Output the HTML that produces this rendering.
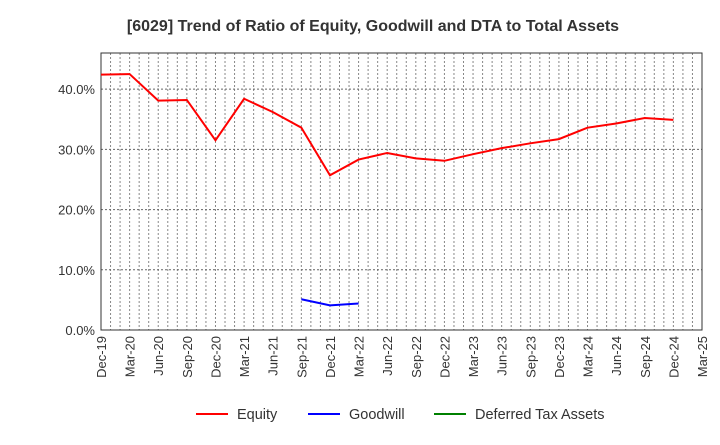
<!DOCTYPE html>
<html><head><meta charset="utf-8"><style>
body{margin:0;background:#fff;font-family:"Liberation Sans",sans-serif}
text{font-family:"Liberation Sans",sans-serif}
</style></head><body>
<svg id="c" width="720" height="440">
<text x="373" y="31" text-anchor="middle" font-size="16" font-weight="bold" fill="#333">[6029]  Trend of Ratio of Equity, Goodwill and DTA to Total Assets</text>
<g id="grid"></g><g id="axes"></g><g id="series"></g>
<g>
<line x1="196" y1="414" x2="228" y2="414" stroke="#f00" stroke-width="2"/>
<text x="237" y="419" font-size="14.5" fill="#333">Equity</text>
<line x1="308" y1="414" x2="340" y2="414" stroke="#00f" stroke-width="2"/>
<text x="349" y="419" font-size="14.5" fill="#333">Goodwill</text>
<line x1="434" y1="414" x2="466" y2="414" stroke="#008000" stroke-width="2"/>
<text x="475" y="419" font-size="14.5" fill="#333">Deferred Tax Assets</text>
</g>
</svg>
<script>
const categories=["Dec-19","Mar-20","Jun-20","Sep-20","Dec-20","Mar-21","Jun-21","Sep-21","Dec-21","Mar-22","Jun-22","Sep-22","Dec-22","Mar-23","Jun-23","Sep-23","Dec-23","Mar-24","Jun-24","Sep-24","Dec-24","Mar-25"];
const equity=[42.4,42.5,38.1,38.2,31.5,38.4,36.2,33.6,25.7,28.3,29.4,28.5,28.1,29.2,30.2,31.0,31.7,33.6,34.3,35.2,34.9,null];
const goodwill=[null,null,null,null,null,null,null,5.1,4.1,4.4,null,null,null,null,null,null,null,null,null,null,null,null];
const yTicks=[0,10,20,30,40];
const yTickLabels=["0.0%","10.0%","20.0%","30.0%","40.0%"];
const L=101,R=702,T=53,B=330,YMAX=46;
const ns="http://www.w3.org/2000/svg";
const x=i=>L+(R-L)*i/(categories.length-1);
const y=v=>B-(B-T)*v/YMAX;
function mk(t,a,p){const e=document.createElementNS(ns,t);for(const k in a)e.setAttribute(k,a[k]);p.appendChild(e);return e;}
const g=document.getElementById('grid'),ax=document.getElementById('axes'),s=document.getElementById('series');
const months=(categories.length-1)*3;
for(let m=1;m<months;m++){const xx=L+(R-L)*m/months;const l=mk('line',{x1:xx,x2:xx,y1:T,y2:B,stroke:'#888','stroke-dasharray':'2,2','stroke-width':1},g);

}
yTicks.forEach((v,i)=>{if(v>0){const l=mk('line',{x1:L,x2:R,y1:y(v),y2:y(v),stroke:'#666','stroke-dasharray':'2,2'},g);

}
const t=mk('text',{x:L-6,y:y(v)+5,'text-anchor':'end','font-size':13,fill:'#333'},ax);t.textContent=yTickLabels[i];

});
const fr=mk('rect',{x:L,y:T,width:R-L,height:B-T,fill:'none',stroke:'#333'},ax);


categories.forEach((c,i)=>{const t=mk('text',{transform:`translate(${x(i)+5},${B+6}) rotate(-90)`,'text-anchor':'end','font-size':13,fill:'#333'},ax);t.textContent=c;

});
function line(arr,col,name){let d='';let pen=false;arr.forEach((v,i)=>{if(v==null){pen=false;return;}d+=(pen?'L':'M')+x(i)+','+y(v);pen=true;});
const p=mk('path',{d:d,fill:'none',stroke:col,'stroke-width':2},s);

}
line(equity,'#f00','equity-line');
line(goodwill,'#00f','goodwill-line');
</script>
</body></html>
